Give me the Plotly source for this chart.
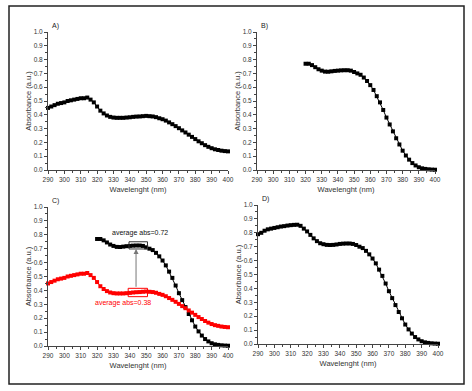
import plotly.graph_objects as go

# ---------------- data ----------------
wl_a = list(range(290, 401, 2))
abs_a = [0.45, 0.46, 0.47, 0.48, 0.485, 0.49, 0.50, 0.505, 0.51, 0.515, 0.52, 0.52, 0.525,
         0.51, 0.49, 0.46, 0.43, 0.41, 0.395, 0.385, 0.38, 0.378, 0.378, 0.378, 0.38, 0.382,
         0.385, 0.387, 0.388, 0.39, 0.392, 0.39, 0.388, 0.383, 0.375, 0.368, 0.358, 0.345,
         0.332, 0.318, 0.303, 0.287, 0.272, 0.256, 0.24, 0.224, 0.208, 0.194, 0.18, 0.168,
         0.158, 0.15, 0.145, 0.14, 0.137, 0.135]

wl_b = list(range(320, 401, 2))
abs_b = [0.77, 0.77, 0.76, 0.745, 0.73, 0.72, 0.713, 0.712, 0.715, 0.718, 0.72, 0.722, 0.723,
         0.723, 0.72, 0.71, 0.70, 0.69, 0.67, 0.645, 0.615, 0.58, 0.535, 0.49, 0.435, 0.38,
         0.33, 0.28, 0.23, 0.185, 0.14, 0.105, 0.075, 0.05, 0.033, 0.02, 0.012, 0.008, 0.005,
         0.003, 0.002]

wl_d = list(range(290, 401, 2))
abs_d = [0.79, 0.80, 0.815, 0.825, 0.83, 0.835, 0.84, 0.845, 0.848, 0.852, 0.855, 0.857, 0.858,
         0.85, 0.83, 0.81, 0.785, 0.76, 0.74, 0.725, 0.718, 0.713, 0.712, 0.713, 0.716, 0.72,
         0.722, 0.723, 0.723, 0.72, 0.712, 0.70, 0.69, 0.67, 0.645, 0.615, 0.58, 0.535, 0.49,
         0.435, 0.38, 0.33, 0.28, 0.23, 0.185, 0.14, 0.105, 0.075, 0.05, 0.033, 0.02, 0.012,
         0.008, 0.005, 0.003, 0.002]

x_ticks = list(range(290, 401, 10))
y_ticks = [i / 10 for i in range(11)]
panel_labels = ["A)", "B)", "C)", "D)"]
avg_black = "average abs=0.72"
avg_red = "average abs=0.38"

W, H = 472, 391
FONT = "Liberation Sans, Arial, sans-serif"
AX = "#444444"

def px_x(p):
    return p / W

def px_y(p):
    return 1 - p / H

fig = go.Figure()

def add(x, y, color, xa, ya):
    fig.add_trace(go.Scatter(
        x=x, y=y, mode="lines+markers", xaxis=xa, yaxis=ya,
        line=dict(color=color, width=1),
        marker=dict(symbol="square", size=4, color=color),
        cliponaxis=False, showlegend=False, hoverinfo="skip"))

add(wl_a, abs_a, "black", "x", "y")
add(wl_b, abs_b, "black", "x2", "y2")
add(wl_b, abs_b, "black", "x3", "y3")
add(wl_a, abs_a, "#ff0000", "x3", "y3")
add(wl_d, abs_d, "black", "x4", "y4")

domains = [
    ((48, 228), (170, 32)),
    ((257, 435), (170, 32)),
    ((48, 228), (346, 207)),
    ((258, 438), (344, 205)),
]

layout = dict(
    width=W, height=H, margin=dict(l=0, r=0, t=0, b=0, autoexpand=False),
    paper_bgcolor="white", plot_bgcolor="white",
    font=dict(family=FONT, size=7, color="#333333"),
)

for i, ((x0, x1), (y0, y1)) in enumerate(domains):
    s = "" if i == 0 else str(i + 1)
    layout["xaxis" + s] = dict(
        domain=[px_x(x0), px_x(x1)], range=[290, 400], anchor="y" + s, automargin=False,
        tickvals=x_ticks, ticks="outside", ticklen=3, tickcolor=AX, tickwidth=1,
        minor=dict(dtick=5, tick0=290, ticks="outside", ticklen=2, tickcolor=AX),
        showline=True, linecolor=AX, linewidth=1, showgrid=False, zeroline=False,
        tickfont=dict(size=6.5, color="#333333"),
        title=dict(text="Wavelenght (nm)", font=dict(size=7.5, color="#333333"), standoff=4),
    )
    layout["yaxis" + s] = dict(
        domain=[px_y(y0), px_y(y1)], range=[0, 1.0], anchor="x" + s, automargin=False,
        tickvals=y_ticks, tickformat=".1f", ticks="outside", ticklen=3, tickcolor=AX, tickwidth=1,
        minor=dict(dtick=0.05, tick0=0, ticks="outside", ticklen=2, tickcolor=AX),
        showline=True, linecolor=AX, linewidth=1, showgrid=False, zeroline=False,
        tickfont=dict(size=6.5, color="#333333"),
        title=dict(text="Absorbance (a.u.)", font=dict(size=7.5, color="#333333"), standoff=1),
    )

fig.update_layout(**layout)

# panel labels
for i, lab in enumerate(panel_labels):
    s = "" if i == 0 else str(i + 1)
    fig.add_annotation(x=0.01, y=1.0, xref="x" + s + " domain", yref="y" + s + " domain",
                       text=lab, showarrow=False, xanchor="left", yanchor="bottom",
                       font=dict(size=7, color="#222222"))

# panel C annotations
fig.add_shape(type="rect", xref="x3", yref="y3", x0=339.5, x1=350.8, y0=0.698, y1=0.75,
              line=dict(color="#333333", width=1))
fig.add_shape(type="rect", xref="x3", yref="y3", x0=339, x1=350.8, y0=0.355, y1=0.415,
              line=dict(color="#ff0000", width=1))
fig.add_annotation(x=343.8, y=0.698, ax=343.8, ay=0.415, xref="x3", yref="y3",
                   axref="x3", ayref="y3", text="", showarrow=True, arrowhead=2,
                   arrowsize=1, arrowwidth=1, arrowcolor="#777777")
fig.add_annotation(x=346, y=0.815, xref="x3", yref="y3", text=avg_black, showarrow=False,
                   font=dict(size=7, color="#111111"))
fig.add_annotation(x=336, y=0.31, xref="x3", yref="y3", text=avg_red, showarrow=False,
                   font=dict(size=7, color="#ff0000"))

# outer border
fig.add_shape(type="rect", xref="paper", yref="paper",
              x0=px_x(9), x1=px_x(464), y0=px_y(384), y1=px_y(6),
              line=dict(color="#222222", width=1.5))

fig.write_html("out.html", config={"displayModeBar": False},
               post_script="document.body.style.margin='0';document.body.style.overflow='hidden';")
